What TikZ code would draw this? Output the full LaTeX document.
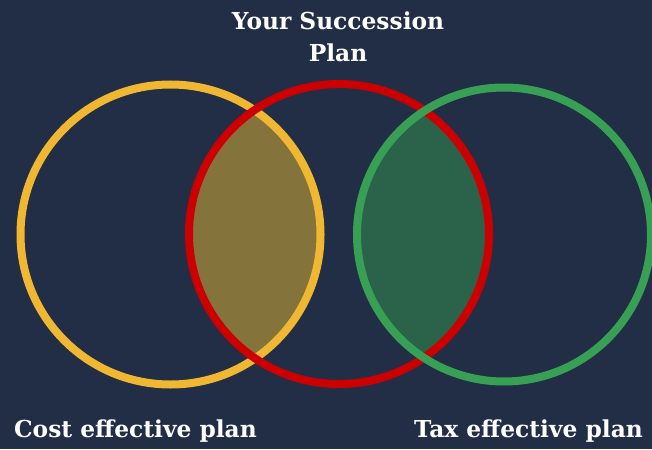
\documentclass[tikz,border=0pt]{standalone}
\usepackage{fontspec}
\setmainfont{DejaVu Serif}
\usetikzlibrary{positioning}

\definecolor{navy}{HTML}{212E45}
\definecolor{goldring}{HTML}{F0B733}
\definecolor{redring}{HTML}{CC0000}
\definecolor{greenring}{HTML}{37A055}
\definecolor{olivefill}{HTML}{85733C}
\definecolor{pinefill}{HTML}{2A6349}

\begin{document}
\begin{tikzpicture}[x=0.75pt,y=-0.75pt,
	ring/.style={line width=6pt},
	caption/.style={text=white,font=\bfseries\fontsize{17.5}{24}\selectfont,inner sep=0pt,anchor=base}
	]

	\fill[navy] (0,0) rectangle (652,449);
	\useasboundingbox (0,0) rectangle (652,449);

	\coordinate (cost) at (170.5,234.5);
	\coordinate (plan) at (339,234);
	\coordinate (tax) at (504,234.5);

	% overlaps
	\begin{scope}
		\clip (plan) circle (150);
		\fill[olivefill] (cost) circle (150);
		\fill[pinefill] (tax) circle (147);
	\end{scope}

	\draw[ring,goldring] (cost) circle (150);
	\draw[ring,redring] (plan) circle (150);
	\draw[ring,greenring] (tax) circle (147);

	\node[caption,align=center] (title) at (338,62) {Your Succession\\Plan};
	\node[caption] (costlbl) at (135.5,437) {Cost effective plan};
	\node[caption] (taxlbl) at (528.5,437) {Tax effective plan};

\end{tikzpicture}
\end{document}
